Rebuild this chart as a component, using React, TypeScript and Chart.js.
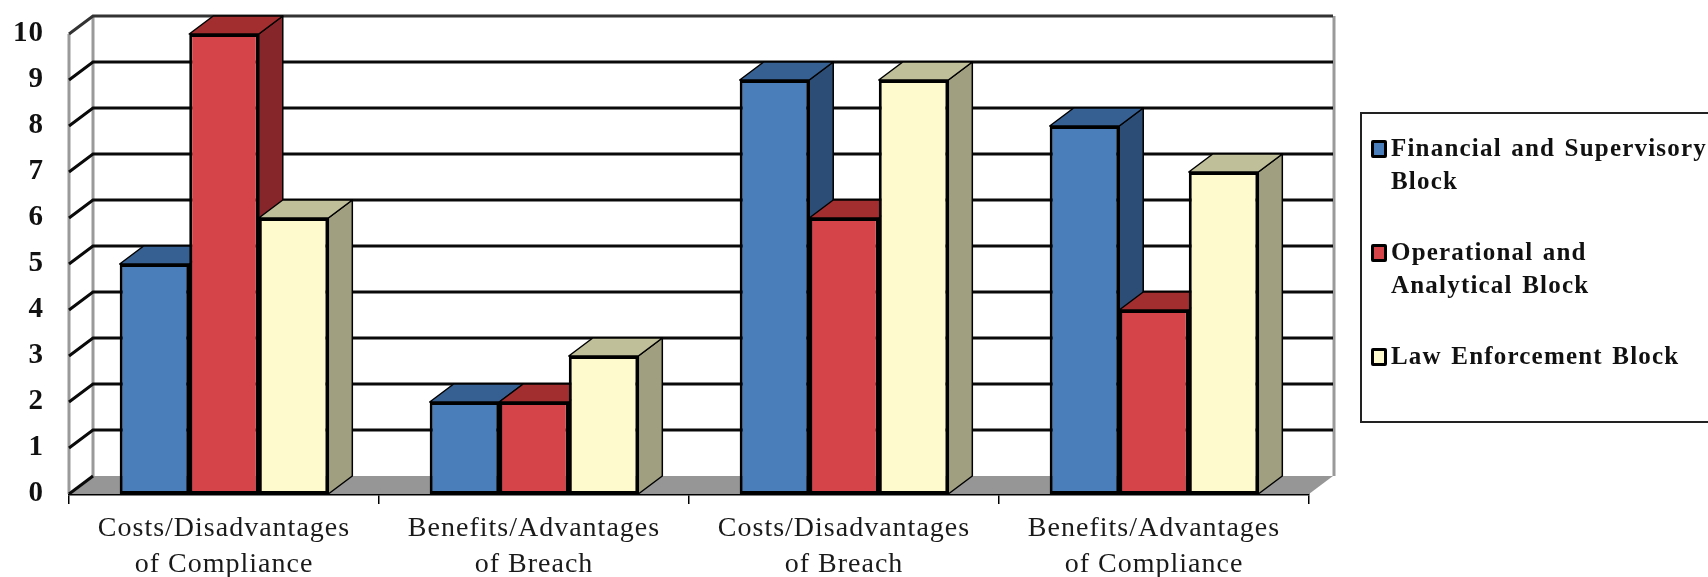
import React, { useEffect, useRef } from "react";
import { Chart, registerables } from "chart.js";

Chart.register(...registerables);

const categories = [
  ["Costs/Disadvantages", "of Compliance"],
  ["Benefits/Advantages", "of Breach"],
  ["Costs/Disadvantages", "of Breach"],
  ["Benefits/Advantages", "of Compliance"],
];
const financial = [5, 2, 9, 8];
const operational = [10, 2, 6, 4];
const lawEnforcement = [6, 3, 9, 7];

const seriesNames = ["Financial and Supervisory Block", "Operational and Analytical Block", "Law Enforcement Block"];
const legendLines = [["Financial and Supervisory", "Block"], ["Operational and", "Analytical Block"], ["Law Enforcement Block"]];
const frontColors = ["#4A7EBB", "#D44449", "#FFFACD"];
const topColors = ["#376092", "#A32E2F", "#BFBF9A"];
const sideColors = ["#2C4D75", "#86262B", "#A0A080"];

const DX = 24;
const DY = 18;
const FONT = "'Liberation Serif', 'Times New Roman', serif";

const box3d = {
  id: "box3d",
  beforeDraw(chart: any) {
    // the x labels of the reference are slightly tracked out
    chart.ctx.letterSpacing = "1px";
  },
  beforeDatasetsDraw(chart: any) {
    const { ctx, chartArea: a, scales } = chart;
    const y = scales.y;
    ctx.save();
    ctx.fillStyle = "#969696";
    ctx.beginPath();
    ctx.moveTo(a.left, a.bottom);
    ctx.lineTo(a.left + DX, a.bottom - DY);
    ctx.lineTo(a.right + DX, a.bottom - DY);
    ctx.lineTo(a.right, a.bottom);
    ctx.closePath();
    ctx.fill();
    ctx.strokeStyle = "#9a9a9a";
    ctx.lineWidth = 3;
    ctx.beginPath();
    ctx.moveTo(a.left, a.top);
    ctx.lineTo(a.left, a.bottom);
    ctx.moveTo(a.left + DX, a.top - DY);
    ctx.lineTo(a.left + DX, a.bottom - DY);
    ctx.moveTo(a.right + DX + 1, a.top - DY);
    ctx.lineTo(a.right + DX + 1, a.bottom - DY);
    ctx.stroke();
    ctx.lineWidth = 3;
    for (let v = 0; v <= 10; v++) {
      const py = y.getPixelForValue(v);
      ctx.strokeStyle = v === 10 ? "#333333" : "#0a0a0a";
      ctx.beginPath();
      ctx.moveTo(a.left, py);
      ctx.lineTo(a.left + DX, py - DY);
      if (v > 0) ctx.lineTo(a.right + DX, py - DY);
      ctx.stroke();
    }
    ctx.restore();
  },
  beforeDatasetDraw() {
    // bars are painted below, first series first, so later faces overlap earlier ones
    return false;
  },
  afterDatasetsDraw(chart: any) {
    const { ctx, chartArea } = chart;
    chart.data.datasets.forEach((_: any, i: number) => {
      const meta = chart.getDatasetMeta(i);
      meta.data.forEach((bar: any) => {
        const half = bar.width / 2;
        const l = bar.x - half;
        const r = bar.x + half;
        const t = bar.y;
        const b = bar.base;
        ctx.save();
        ctx.strokeStyle = "#000000";
        ctx.lineWidth = 1.5;
        ctx.lineJoin = "round";
        ctx.fillStyle = sideColors[i];
        ctx.beginPath();
        ctx.moveTo(r, t);
        ctx.lineTo(r + DX, t - DY);
        ctx.lineTo(r + DX, b - DY);
        ctx.lineTo(r, b);
        ctx.closePath();
        ctx.fill();
        ctx.stroke();
        ctx.fillStyle = topColors[i];
        ctx.beginPath();
        ctx.moveTo(l, t);
        ctx.lineTo(l + DX, t - DY);
        ctx.lineTo(r + DX, t - DY);
        ctx.lineTo(r, t);
        ctx.closePath();
        ctx.fill();
        ctx.stroke();
        ctx.restore();
        bar.draw(ctx, chartArea);
      });
    });
  },
};

export default function App() {
  const ref = useRef<HTMLCanvasElement>(null);
  useEffect(() => {
    document.body.style.margin = "0";
    const values = [financial, operational, lawEnforcement];
    const chart = new Chart(ref.current!, {
      type: "bar",
      data: {
        labels: categories,
        datasets: values.map((data, i) => ({
          label: seriesNames[i],
          data,
          backgroundColor: frontColors[i],
          borderColor: "#000000",
          borderWidth: 3,
          borderSkipped: false,
          categoryPercentage: 0.673,
          barPercentage: 1,
        })),
      },
      options: {
        responsive: false,
        animation: false,
        layout: { padding: { top: 34, right: 399, left: 0, bottom: 0 } },
        plugins: { legend: { display: false }, tooltip: { enabled: false } },
        scales: {
          x: {
            afterFit(s: any) { s.height = 83; },
            grid: { offset: true, drawOnChartArea: false, color: "#000000", tickLength: 10, lineWidth: 1.5 },
            border: { color: "#000000", width: 2.5 },
            ticks: {
              color: "#1a1a1a",
              maxRotation: 0,
              autoSkip: false,
              padding: 7,
              font: { family: FONT, size: 28, lineHeight: 1.28 },
            },
          },
          y: {
            min: 0,
            max: 10,
            afterFit(s: any) { s.width = 69; s.paddingTop = 0; s.paddingBottom = 0; },
            grid: { display: false, drawTicks: false },
            border: { display: false },
            ticks: {
              stepSize: 1,
              color: "#111111",
              padding: 25,
              font: { family: FONT, size: 29, weight: "bold" },
            },
          },
        },
      },
      plugins: [box3d],
    } as any);
    return () => chart.destroy();
  }, []);

  const tops = [132, 236, 340];
  return (
    <div style={{ position: "relative", width: 1708, height: 577, overflow: "hidden", background: "#fff" }}>
      <canvas ref={ref} width={1708} height={577} style={{ position: "absolute", left: 0, top: 0, filter: "blur(0.5px)" }} />
      <div
        style={{
          position: "absolute",
          left: 1360,
          top: 112,
          width: 360,
          height: 311,
          border: "2px solid #222",
          boxSizing: "border-box",
          filter: "blur(0.4px)",
        }}
      />
      {legendLines.map((lines, i) => (
        <div key={i} style={{ position: "absolute", left: 0, top: 0, filter: "blur(0.4px)" }}>
          <div
            style={{
              position: "absolute",
              left: 1371,
              top: tops[i] + 8,
              width: 16,
              height: 18,
              boxSizing: "border-box",
              background: frontColors[i],
              border: "3px solid #000",
              borderRadius: 2,
            }}
          />
          <div
            style={{
              position: "absolute",
              left: 1391,
              top: tops[i] - 1,
              whiteSpace: "nowrap",
              font: `bold 25px/33px ${FONT}`,
              letterSpacing: "1.2px",
              wordSpacing: "2px",
              color: "#111",
            }}
          >
            {lines.map((l) => (
              <div key={l}>{l}</div>
            ))}
          </div>
        </div>
      ))}
    </div>
  );
}
